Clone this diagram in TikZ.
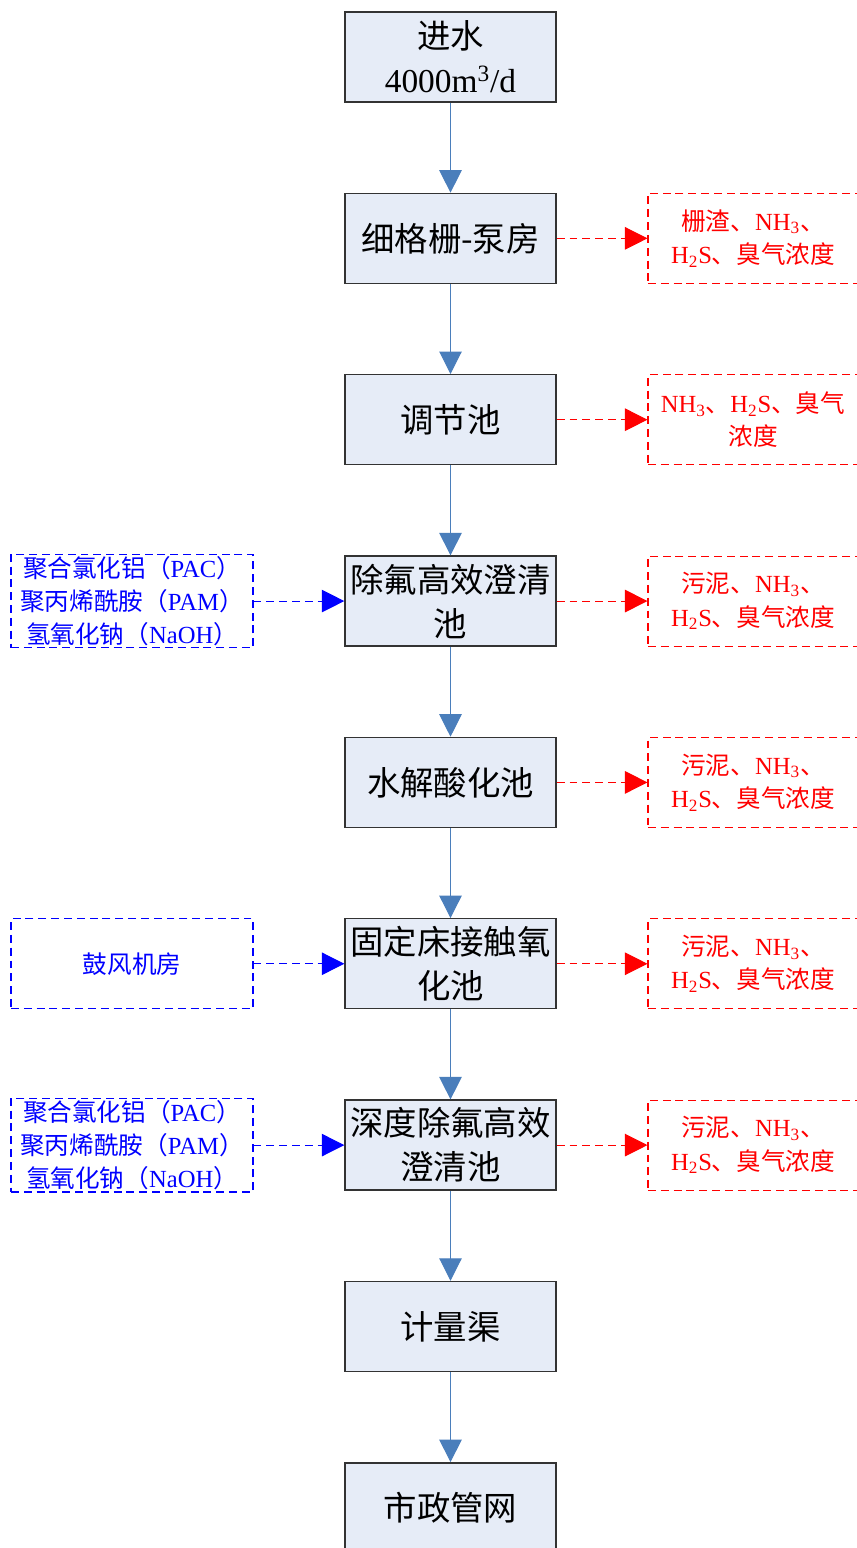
\documentclass[tikz,border=0pt]{standalone}
\usepackage{fontspec}
\setmainfont{Liberation Serif}
\newfontfamily\zh{Noto Sans CJK SC}
\usetikzlibrary{arrows.meta}
\definecolor{boxfill}{RGB}{230,236,247}
\definecolor{flowblue}{RGB}{74,126,187}
\newcommand{\lat}[1]{{\rmfamily #1}}

\begin{document}
\begin{tikzpicture}[
    unit/.style={draw=black!80,line width=.8pt,fill=boxfill,minimum width=4.22cm,minimum height=1.8cm,inner sep=1pt,align=center,font=\zh\fontsize{19}{25}\selectfont},
    gas/.style={draw=red,dash pattern=on 4.5pt off 2.8pt,line width=.6pt,text=red,minimum width=4.2cm,minimum height=1.8cm,inner sep=1pt,align=center,font=\zh\fontsize{14}{19}\selectfont},
    dose/.style={draw=blue,dash pattern=on 4.5pt off 2.8pt,line width=.6pt,text=blue,minimum width=4.84cm,minimum height=1.8cm,inner sep=1pt,align=center,font=\zh\fontsize{14}{19}\selectfont},
    flow/.style={line width=.6pt,flowblue,-{Triangle[length=.45cm,width=.45cm]}},
    gasflow/.style={line width=.6pt,red,dash pattern=on 4.5pt off 2.8pt,-{Triangle[length=.45cm,width=.45cm]}},
    doseflow/.style={line width=.6pt,blue,dash pattern=on 4.5pt off 2.8pt,-{Triangle[length=.45cm,width=.45cm]}}]

    \useasboundingbox (0,0) rectangle (17.14,-30.96);

    % treatment units, top to bottom
    \foreach \i/\t in {0/{进水\\\lat{4000m\textsuperscript{3}/d}},1/{细格栅-泵房},2/{调节池},3/{除氟高效澄清\\池},
        4/{水解酸化池},5/{固定床接触氧\\化池},6/{深度除氟高效\\澄清池},7/{计量渠},8/{市政管网}} {
        \node[unit] (u\i) at (9.01,-1.14-3.627*\i) {\t};}

    \foreach \i [count=\j from 1] in {0,...,7}
        \draw[flow] (u\i) -- (u\j);

    % by-products and odour
    \foreach \i/\t in {1/{栅渣、\lat{NH\textsubscript{3}}、\\\lat{H\textsubscript{2}S}、臭气浓度},
        2/{\lat{NH\textsubscript{3}}、\lat{H\textsubscript{2}S}、臭气\\浓度},
        3/{污泥、\lat{NH\textsubscript{3}}、\\\lat{H\textsubscript{2}S}、臭气浓度},
        4/{污泥、\lat{NH\textsubscript{3}}、\\\lat{H\textsubscript{2}S}、臭气浓度},
        5/{污泥、\lat{NH\textsubscript{3}}、\\\lat{H\textsubscript{2}S}、臭气浓度},
        6/{污泥、\lat{NH\textsubscript{3}}、\\\lat{H\textsubscript{2}S}、臭气浓度}} {
        \node[gas] (g\i) at (15.06,-1.14-3.627*\i) {\t};
        \draw[gasflow] (u\i) -- (g\i);}

    % dosing and air supply
    \foreach \i/\t in {3/{聚合氯化铝（\lat{PAC}）\\聚丙烯酰胺（\lat{PAM}）\\氢氧化钠（\lat{NaOH}）},
        5/{鼓风机房},
        6/{聚合氯化铝（\lat{PAC}）\\聚丙烯酰胺（\lat{PAM}）\\氢氧化钠（\lat{NaOH}）}} {
        \node[dose] (d\i) at (2.64,-1.14-3.627*\i) {\t};
        \draw[doseflow] (d\i) -- (u\i);}
\end{tikzpicture}
\end{document}
